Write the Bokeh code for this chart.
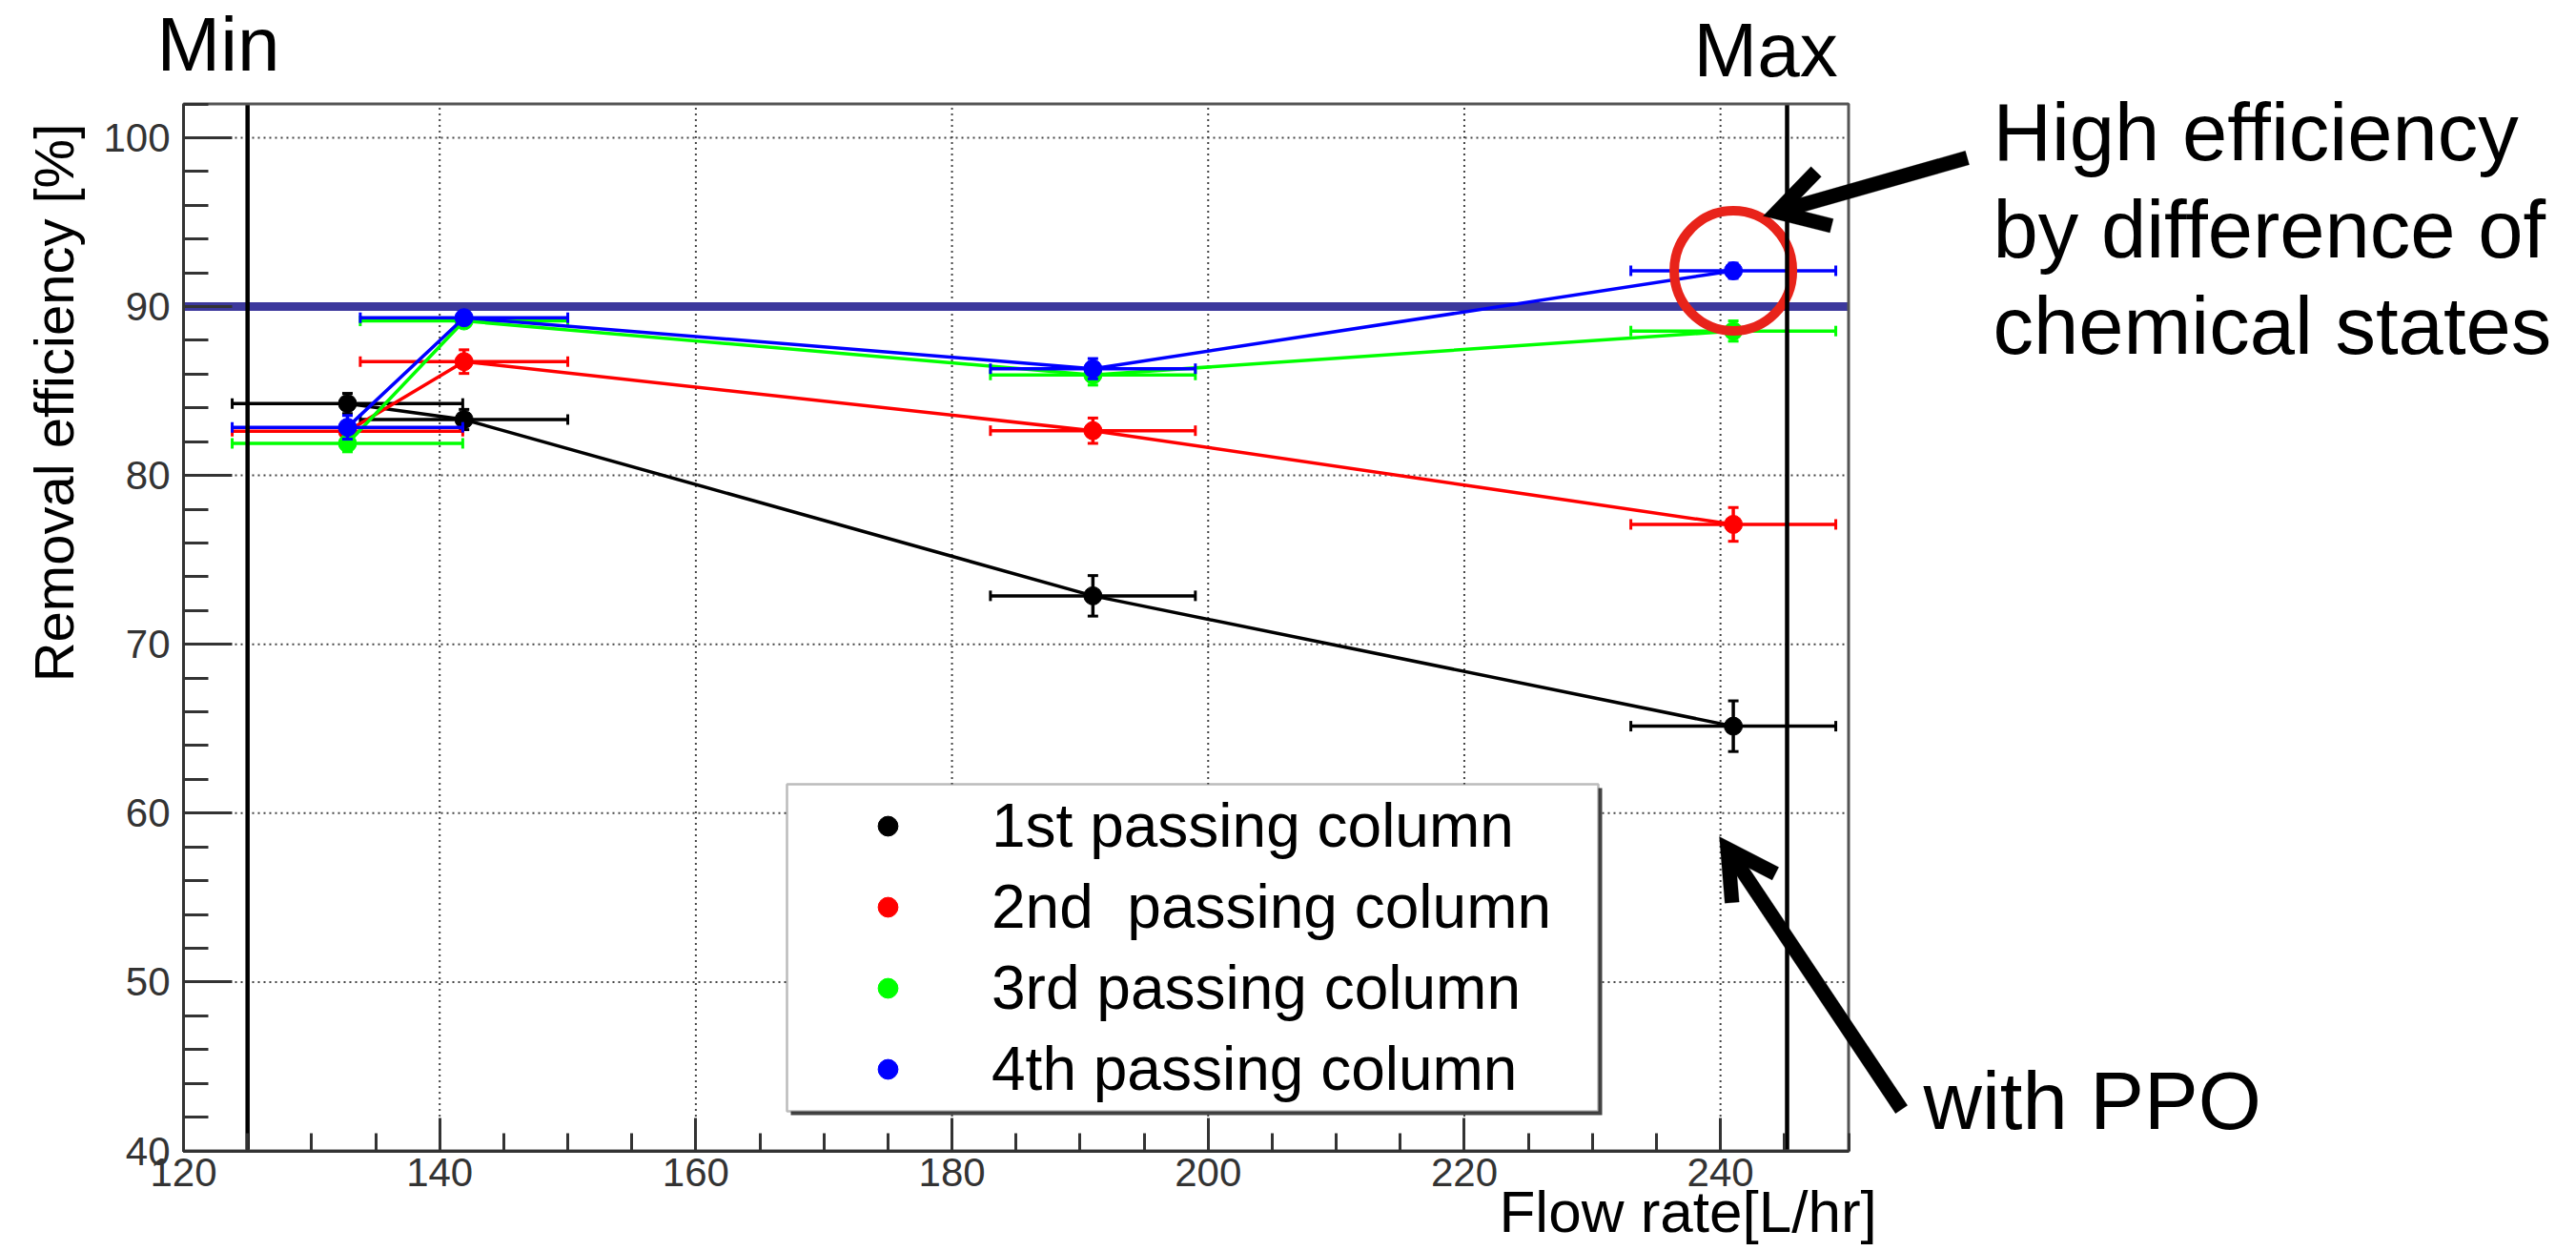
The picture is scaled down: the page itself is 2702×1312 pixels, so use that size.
import math
from bokeh.plotting import figure
from bokeh.models import (Range1d, SingleIntervalTicker, Label, Legend, LegendItem,
                          BoxAnnotation, PolyAnnotation, LinearAxis)
from bokeh.embed import file_html
from bokeh.resources import INLINE

# ---------------- data ----------------
flow = [132.8, 141.9, 191.0, 241.0]          # flow rate [L/hr]
flow_err = [9.0, 8.1, 8.0, 8.0]              # x error (half width)

series_names = ["1st passing column", "2nd  passing column",
                "3rd passing column", "4th passing column"]
eff_1st = [84.26, 83.31, 72.87, 65.15]
err_1st = [0.6, 0.6, 1.2, 1.5]
eff_2nd = [82.62, 86.74, 82.65, 77.10]
err_2nd = [0.3, 0.7, 0.75, 1.0]
eff_3rd = [81.90, 89.15, 85.95, 88.55]
err_3rd = [0.5, 0.3, 0.6, 0.6]
eff_4th = [82.85, 89.34, 86.32, 92.12]
err_4th = [0.7, 0.3, 0.6, 0.45]
series_colors = ["#000000", "#ff0000", "#00ff00", "#0000ff"]

x_lo, x_hi = 120, 250           # axis ranges of the inner plot
y_lo, y_hi = 40, 102
x_grid_ticks = [140, 160, 180, 200, 220, 240]
y_grid_ticks = [50, 60, 70, 80, 90, 100]

threshold = 90        # horizontal reference line
flow_min = 125        # "Min" vertical line
flow_max = 245.2      # "Max" vertical line

FONT = "Liberation Sans"

# ---------------- layout (pixels) ----------------
W, H = 2702, 1312
FR_L, FR_R, FR_T, FR_B = 192.0, 1938.5, 108.5, 1206.5   # inner plot box
kx = (FR_R - FR_L) / (x_hi - x_lo)
ky = (FR_B - FR_T) / (y_hi - y_lo)
x_start = x_lo - FR_L / kx
x_end = x_hi + (W - FR_R) / kx
y_end = y_hi + FR_T / ky
y_start = y_lo - (H - FR_B) / ky

p = figure(width=W, height=H, output_backend="svg", toolbar_location=None,
           x_range=Range1d(x_start, x_end), y_range=Range1d(y_start, y_end),
           x_axis_type=None, y_axis_type=None,
           min_border_left=0, min_border_right=0, min_border_top=0, min_border_bottom=0)
p.background_fill_color = "white"
p.border_fill_color = "white"
p.outline_line_color = None

def sx(X):
    return X
def sy(Y):
    return H - Y

# ---------------- grid ----------------
p.segment(x0=x_grid_ticks, y0=[y_lo] * len(x_grid_ticks), x1=x_grid_ticks, y1=[y_hi] * len(x_grid_ticks),
          line_color="#444444", line_width=2, line_dash="2 4")
p.segment(x0=[x_lo] * len(y_grid_ticks), y0=y_grid_ticks, x1=[x_hi] * len(y_grid_ticks), y1=y_grid_ticks,
          line_color="#444444", line_width=2, line_dash="2 4")

# threshold line
p.segment(x0=[x_lo], y0=[threshold], x1=[x_hi], y1=[threshold], line_color="#3c389c", line_width=9)

# ---------------- axes (fixed at the inner box) ----------------
xaxis = LinearAxis(fixed_location=y_lo, bounds=(x_lo, x_hi),
                   ticker=SingleIntervalTicker(interval=20, num_minor_ticks=4))
yaxis = LinearAxis(fixed_location=x_lo, bounds=(y_lo, y_hi),
                   ticker=SingleIntervalTicker(interval=10, num_minor_ticks=5))
for ax, maj, mnr in ((xaxis, 35, 19), (yaxis, 51, 26)):
    ax.axis_line_color = "#333333"
    ax.axis_line_width = 3
    ax.major_tick_line_color = "#333333"
    ax.major_tick_line_width = 3
    ax.minor_tick_line_color = "#333333"
    ax.minor_tick_line_width = 3
    ax.major_tick_in = maj
    ax.major_tick_out = 0
    ax.minor_tick_in = mnr
    ax.minor_tick_out = 0
    ax.major_label_text_font = FONT
    ax.major_label_text_font_size = "42px"
    ax.major_label_text_color = "#333333"
xaxis.major_label_standoff = 8
yaxis.major_label_standoff = 14
p.add_layout(xaxis, "below")
p.add_layout(yaxis, "left")

# ---------------- series ----------------
all_eff = [eff_1st, eff_2nd, eff_3rd, eff_4th]
all_err = [err_1st, err_2nd, err_3rd, err_4th]
legend_items = []
for name, eff, err, col in zip(series_names, all_eff, all_err, series_colors):
    p.line(flow, eff, line_color=col, line_width=3.5)
    xlo = [x - e for x, e in zip(flow, flow_err)]
    xhi = [x + e for x, e in zip(flow, flow_err)]
    ylo = [y - e for y, e in zip(eff, err)]
    yhi = [y + e for y, e in zip(eff, err)]
    p.segment(x0=xlo, y0=eff, x1=xhi, y1=eff, line_color=col, line_width=3.5)
    p.segment(x0=flow, y0=ylo, x1=flow, y1=yhi, line_color=col, line_width=3.5)
    p.scatter(x=xlo + xhi, y=eff + eff, marker="dash", angle=math.pi / 2, size=11,
              line_color=col, line_width=3)
    p.scatter(x=flow + flow, y=ylo + yhi, marker="dash", size=11,
              line_color=col, line_width=3)
    r = p.scatter(x=flow, y=eff, size=19, fill_color=col, line_color=col)
    legend_items.append(LegendItem(label=name, renderers=[r]))

# red highlight circle around the 4th column point at max flow
p.ellipse(x=[flow[3]], y=[eff_4th[3]], width=124, height=126,
          width_units="screen", height_units="screen",
          fill_color=None, line_color="#e8231a", line_width=10)

# Min / Max lines
p.segment(x0=[flow_min, flow_max], y0=[y_lo, y_lo], x1=[flow_min, flow_max], y1=[y_hi, y_hi],
          line_color="black", line_width=4.5)

# inner box outline
p.quad(left=[x_lo], right=[x_hi], bottom=[y_lo], top=[y_hi],
       fill_color=None, line_color="#555555", line_width=3)

# ---------------- legend ----------------
p.add_layout(BoxAnnotation(left=sx(825) + 4, right=sx(1676) + 4, top=sy(822) - 4, bottom=sy(1165) - 4,
                           left_units="screen", right_units="screen",
                           top_units="screen", bottom_units="screen",
                           fill_color="#444444", fill_alpha=1, line_alpha=0))
p.add_layout(BoxAnnotation(left=sx(825), right=sx(1676), top=sy(822), bottom=sy(1165),
                           left_units="screen", right_units="screen",
                           top_units="screen", bottom_units="screen",
                           fill_color="white", fill_alpha=1,
                           line_color="#222222", line_width=2.5))
legend = Legend(items=legend_items, location=(sx(905), sy(1163.5)),
                orientation="vertical", padding=0, spacing=0, margin=0,
                glyph_width=52, glyph_height=52, label_height=85,
                label_standoff=83, label_text_font=FONT,
                label_text_font_size="64px", label_text_color="black",
                border_line_alpha=0, background_fill_alpha=0)
p.add_layout(legend)

# ---------------- text annotations ----------------
BASE_SHIFT = 0.38   # empirical offset of the alphabetic baseline, in em

def add_label(text, X, Y, size, align="left", angle=0.0):
    if angle == 0.0:
        Y = Y - BASE_SHIFT * size
    else:
        X = X - BASE_SHIFT * size
    p.add_layout(Label(x=sx(X), y=sy(Y), x_units="screen", y_units="screen", text=text,
                       text_font=FONT, text_font_size=f"{size}px", text_color="black",
                       text_align=align, text_baseline="alphabetic", angle=angle))

add_label("Min", 164, 76, 80)
add_label("Max", 1776, 82, 80)
add_label("High efficiency", 2090, 170, 85)
add_label("by difference of", 2090, 272, 85)
add_label("chemical states", 2090, 373, 85)
add_label("with PPO", 2017, 1186, 85)
add_label("Flow rate[L/hr]", 1572, 1294, 62)
add_label("Removal efficiency [%]", 78, 422, 58, align="center", angle=math.pi / 2)

# ---------------- arrows ----------------
def add_arrow(tail, tip, L, theta_deg, w):
    tx, ty = tail
    px, py = tip
    dx, dy = tx - px, ty - py
    n = math.hypot(dx, dy)
    dx, dy = dx / n, dy / n
    phi = math.atan2(dy, dx)
    th = math.radians(theta_deg)
    a1 = phi + th
    a2 = phi - th
    e1o = (px + L * math.cos(a1), py + L * math.sin(a1))
    e2o = (px + L * math.cos(a2), py + L * math.sin(a2))
    n1 = a1 - math.pi / 2
    n2 = a2 + math.pi / 2
    e1i = (e1o[0] + w * math.cos(n1), e1o[1] + w * math.sin(n1))
    e2i = (e2o[0] + w * math.cos(n2), e2o[1] + w * math.sin(n2))
    dt = w / math.sin(th)
    itip = (px + dx * dt, py + dy * dt)
    head = [e1o, (px, py), e2o, e2i, itip, e1i]
    p.add_layout(PolyAnnotation(xs=[sx(q[0]) for q in head], ys=[sy(q[1]) for q in head],
                                xs_units="screen", ys_units="screen",
                                fill_color="black", fill_alpha=1, line_color="black", line_width=1))
    s0 = (px + dx * dt * 0.6, py + dy * dt * 0.6)
    nx, ny = -dy * w / 2, dx * w / 2
    shaft = [(s0[0] + nx, s0[1] + ny), (tx + nx, ty + ny), (tx - nx, ty - ny), (s0[0] - nx, s0[1] - ny)]
    p.add_layout(PolyAnnotation(xs=[sx(q[0]) for q in shaft], ys=[sy(q[1]) for q in shaft],
                                xs_units="screen", ys_units="screen",
                                fill_color="black", fill_alpha=1, line_color="black", line_width=1))

add_arrow((2063, 165), (1849, 226), 72, 30, 15)
add_arrow((1994, 1163), (1803, 877), 70, 29, 15)

open("out.html", "w").write(file_html(p, INLINE))
